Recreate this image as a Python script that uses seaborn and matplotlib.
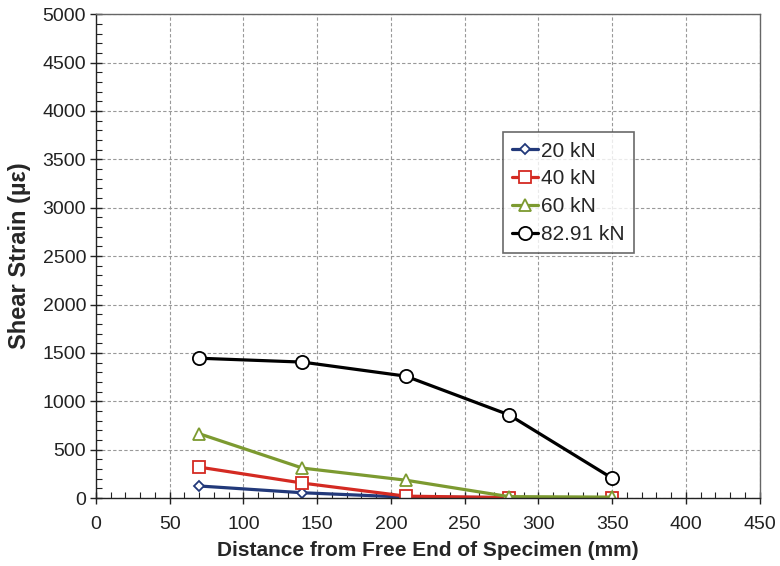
import matplotlib
matplotlib.use("Agg")
import matplotlib.pyplot as plt
import pandas as pd
import seaborn as sns
from matplotlib.ticker import MultipleLocator

# Data
distance = [70, 140, 210, 280, 350]
strain_20 = [125, 55, 10, 5, 5]
strain_40 = [320, 155, 20, 5, 5]
strain_60 = [665, 310, 185, 15, 10]
strain_83 = [1445, 1405, 1260, 860, 205]
labels = ['20 kN', '40 kN', '60 kN', '82.91 kN']
colors = ['#22397a', '#d42a22', '#7c9a30', '#000000']
markers = ['D', 's', '^', 'o']
msizes = [5.5, 8.5, 9, 9.5]

sns.set_style('white')
plt.rcParams['font.family'] = ['Liberation Sans', 'DejaVu Sans']

fig, ax = plt.subplots(figsize=(7.8, 5.66), dpi=100)
fig.subplots_adjust(left=0.123, right=0.974, bottom=0.12, top=0.975)

for vals, lab, c, m, ms in zip([strain_20, strain_40, strain_60, strain_83], labels, colors, markers, msizes):
    df = pd.DataFrame({'x': distance, 'y': vals})
    sns.lineplot(data=df, x='x', y='y', ax=ax, color=c, marker=m, markersize=ms,
                 markerfacecolor='white', markeredgecolor=c, markeredgewidth=1.3,
                 linewidth=2.3, label=lab)

ax.set_xlim(0, 450)
ax.set_ylim(0, 5000)
ax.xaxis.set_major_locator(MultipleLocator(50))
ax.xaxis.set_minor_locator(MultipleLocator(10))
ax.yaxis.set_major_locator(MultipleLocator(500))
ax.yaxis.set_minor_locator(MultipleLocator(100))
ax.tick_params(which='major', direction='inout', length=8, width=1, labelsize=14,
               colors='#222222', pad=3)
ax.tick_params(axis='x', which='major', pad=9)
ax.tick_params(which='minor', direction='in', length=4, width=0.8, colors='#222222')
ax.tick_params(axis='both', which='both', bottom=True, left=True)
ax.grid(True, which='major', linestyle=(0, (3, 2)), color='#999999', linewidth=0.8)
for s in ax.spines.values():
    s.set_color('#666666')
    s.set_linewidth(1.0)
ax.spines['left'].set_color('#222222')
ax.spines['bottom'].set_color('#222222')

ax.set_xlabel('Distance from Free End of Specimen (mm)', fontsize=15, fontweight='bold', labelpad=6)
ax.set_ylabel('Shear Strain (µε)', fontsize=17, fontweight='bold', labelpad=8)

leg = ax.legend(loc='upper left', bbox_to_anchor=(0.613, 0.756), fontsize=15, frameon=True,
                fancybox=False, handlelength=1.25, handletextpad=0.15, borderpad=0.45,
                labelspacing=0.42, borderaxespad=0)
leg.get_frame().set_edgecolor('#444444')
leg.get_frame().set_linewidth(1.2)

fig.savefig('out.png', dpi=100)
